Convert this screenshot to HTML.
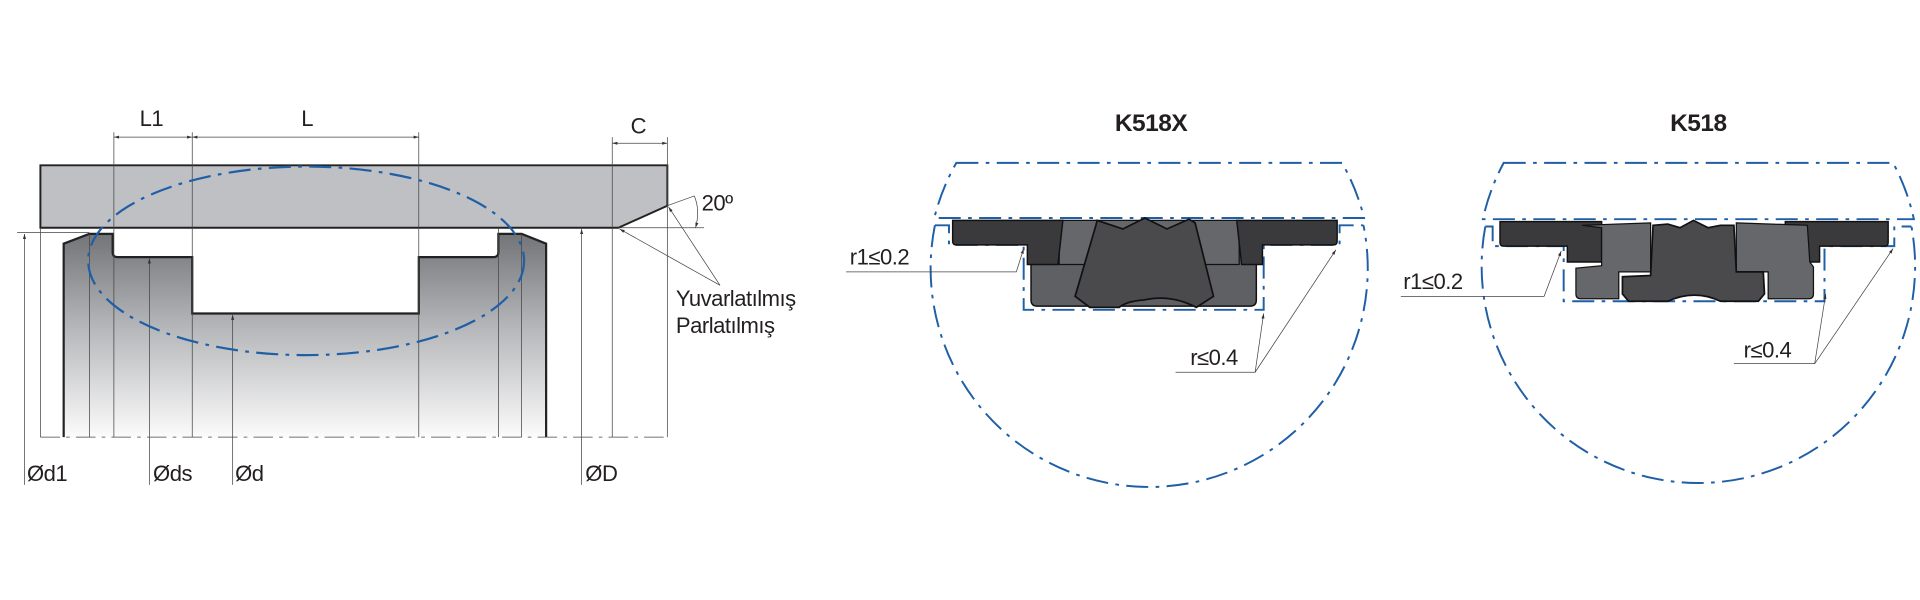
<!DOCTYPE html>
<html><head><meta charset="utf-8"><style>
html,body{margin:0;padding:0;background:#fff;}
svg{display:block;}
text{font-family:"Liberation Sans",sans-serif;fill:#231f20;letter-spacing:-0.4px;}
</style></head><body>
<svg width="1920" height="600" viewBox="0 0 1568 490" xmlns="http://www.w3.org/2000/svg">
<defs>
<linearGradient id="bg" x1="0" y1="0" x2="0" y2="1">
<stop offset="0" stop-color="#737478"/><stop offset="0.45" stop-color="#b4b5b8"/><stop offset="1" stop-color="#fbfbfb"/>
</linearGradient>
<marker id="ar" viewBox="0 0 10 10" refX="10" refY="5" markerWidth="7" markerHeight="7" orient="auto-start-reverse"><path d="M0,2 L10,5 L0,8 z" fill="#333"/></marker>
</defs>

<!-- LEFT DRAWING -->
<path d="M52,357 L52,199 L73,191 L92,191 L92,206 Q92,210 96,210 L157,210 L157,256 L342,256 L342,210 L403,210 Q407,210 407,206 L407,191 L426,191 L446,199 L446,357 Z" fill="url(#bg)" stroke="none"/>
<path d="M52,357 L52,199 L73,191 L92,191 L92,206 Q92,210 96,210 L157,210 L157,256 L342,256 L342,210 L403,210 Q407,210 407,206 L407,191 L426,191 L446,199 L446,357" fill="none" stroke="#222" stroke-width="1.8"/>
<path d="M33,135 L545,135 L545,168 L505,186 L33,186 Z" fill="#bfc0c4" stroke="#222" stroke-width="1.6"/>
<g stroke="#444" stroke-width="0.6" fill="none">
<line x1="73" y1="191" x2="73" y2="357"/>
<line x1="426" y1="191" x2="426" y2="357"/>
<line x1="33" y1="186" x2="33" y2="357"/>
<line x1="93" y1="108" x2="93" y2="357"/>
<line x1="157" y1="108" x2="157" y2="357"/>
<line x1="342" y1="108" x2="342" y2="357"/>
<line x1="407" y1="186" x2="407" y2="357"/>
<line x1="500" y1="112" x2="500" y2="357"/>
<line x1="545" y1="112" x2="545" y2="357"/>
<line x1="505" y1="186" x2="575" y2="186"/>
<line x1="14" y1="190" x2="73" y2="190"/>
<line x1="93" y1="112" x2="157" y2="112" marker-start="url(#ar)" marker-end="url(#ar)"/>
<line x1="157" y1="112" x2="342" y2="112" marker-start="url(#ar)" marker-end="url(#ar)"/>
<line x1="500" y1="117" x2="545" y2="117" marker-start="url(#ar)" marker-end="url(#ar)"/>
<line x1="20" y1="396" x2="20" y2="191" marker-end="url(#ar)"/>
<line x1="122" y1="396" x2="122" y2="211" marker-end="url(#ar)"/>
<line x1="190" y1="396" x2="190" y2="257" marker-end="url(#ar)"/>
<line x1="475" y1="396" x2="475" y2="187" marker-end="url(#ar)"/>
<line x1="545" y1="168" x2="567" y2="160"/>
<path d="M567,160 Q572,172 568,186" marker-end="url(#ar)"/>
<line x1="588" y1="233" x2="506" y2="187" marker-end="url(#ar)"/>
<line x1="588" y1="233" x2="546" y2="169" marker-end="url(#ar)"/>
<line x1="33" y1="357" x2="545" y2="357" stroke-dasharray="16 5 3 5"/>
</g>
<ellipse cx="250" cy="213" rx="178" ry="77" fill="none" stroke="#1f5fa6" stroke-width="1.8" stroke-dasharray="18 6 3 6"/>
<g font-size="18">
<text x="114" y="103">L1</text>
<text x="246" y="103">L</text>
<text x="515" y="109">C</text>
<text x="573" y="172">20º</text>
<text x="552" y="250">Yuvarlatılmış</text>
<text x="552" y="272">Parlatılmış</text>
<text x="22" y="393">Ød1</text>
<text x="125" y="393">Øds</text>
<text x="192" y="393">Ød</text>
<text x="478" y="393">ØD</text>
</g>

<!-- MIDDLE K518X -->
<text x="940" y="107" font-size="20" font-weight="bold" text-anchor="middle">K518X</text>
<g fill="none" stroke="#1f5fa6" stroke-width="1.6" stroke-dasharray="18 6 3 6">
<path d="M781,133 L1096,133 A178.5,178.5 0 0 1 1114,178 L763,178 A178.5,178.5 0 0 1 781,133 Z"/>
<path d="M763.5,184 L775,184 L775,200 L836,200 L836,253 L1032,253 L1032,200 L1094,200 L1094,184 L1113.5,184"/>
<path d="M763.5,184 A178.5,178.5 0 1 0 1113.5,184"/>
</g>
<path d="M842,200 L1026,200 L1026,245 Q1026,250 1021,250 L847,250 Q842,250 842,245 Z" fill="#5f6064" stroke="#111" stroke-width="1.2"/>
<path d="M865,180 L1012,180 L1012,216 L865,216 Z" fill="#66676b" stroke="#111" stroke-width="1"/>
<path d="M778,180 L868,180 L864,216 L839,216 L839,200 L781,200 Q778,200 778,197 Z" fill="#3a3a3c" stroke="#111" stroke-width="1.2"/>
<path d="M1010,180 L1092,180 L1092,197 Q1092,200 1089,200 L1031,200 L1031,216 L1014,216 Z" fill="#3a3a3c" stroke="#111" stroke-width="1.2"/>
<path d="M896,180 L917,187 L935,178 L953,187 L971,179 L976,182 L991,242 L977,251 Q956,240 934,245 Q920,246 914,251 L890,251 L878,242 L895,184 Z" fill="#4a4a4d" stroke="#111" stroke-width="1.4"/>
<g fill="none" stroke="#444" stroke-width="0.6">
<path d="M691,222 L830,222 L836,203" marker-end="url(#ar)"/>
<path d="M960,304 L1025,304 L1032,256" marker-end="url(#ar)"/>
<path d="M1025,304 L1091,204" marker-end="url(#ar)"/>
</g>
<text x="694" y="216" font-size="18">r1≤0.2</text>
<text x="972" y="298" font-size="18">r≤0.4</text>

<!-- RIGHT K518 -->
<text x="1387" y="107" font-size="20" font-weight="bold" text-anchor="middle">K518</text>
<g fill="none" stroke="#1f5fa6" stroke-width="1.6" stroke-dasharray="18 6 3 6">
<path d="M1228,133 L1546,133 A177,177 0 0 1 1563,179 L1211,179 A177,177 0 0 1 1228,133 Z"/>
<path d="M1213,185 L1219,185 L1219,201 L1277,201 L1277,246 L1490,246 L1490,201 L1547,201 L1547,185 L1561,185"/>
<path d="M1213,185 A177,177 0 1 0 1561,185"/>
</g>
<path d="M1225,181 L1308,181 L1308,214 L1280,214 L1280,201 L1228,201 Q1225,201 1225,198 Z" fill="#3a3a3c" stroke="#111" stroke-width="1.2"/>
<path d="M1458,181 L1542,181 L1542,198 Q1542,201 1539,201 L1486,201 L1486,214 L1458,214 Z" fill="#3a3a3c" stroke="#111" stroke-width="1.2"/>
<path d="M1292,184 L1348,182 L1348,222 L1322,222 L1322,244 L1291,244 Q1287,244 1287,240 L1287,219 L1308,217 L1308,186 Z" fill="#66676b" stroke="#111" stroke-width="1"/>
<path d="M1418,182 L1476,184 L1478,214 L1481,218 L1481,240 Q1481,244 1477,244 L1444,244 L1444,222 L1418,222 Z" fill="#66676b" stroke="#111" stroke-width="1"/>
<path d="M1350,184 L1362,183 L1372,186 L1383,180 L1395,186 L1405,184 L1416,184 L1418,222 L1440,222 L1441,240 L1436,246 L1405,246 Q1384,236 1362,246 L1330,246 L1325,240 L1325,226 L1348,225 Z" fill="#4a4a4d" stroke="#111" stroke-width="1.4"/>
<g fill="none" stroke="#444" stroke-width="0.6">
<path d="M1144,242 L1261,242 L1275,205" marker-end="url(#ar)"/>
<path d="M1416,297 L1482,297 L1491,240" marker-end="url(#ar)"/>
<path d="M1482,297 L1546,203" marker-end="url(#ar)"/>
</g>
<text x="1146" y="236" font-size="18">r1≤0.2</text>
<text x="1424" y="292" font-size="18">r≤0.4</text>
</svg>
</body></html>
